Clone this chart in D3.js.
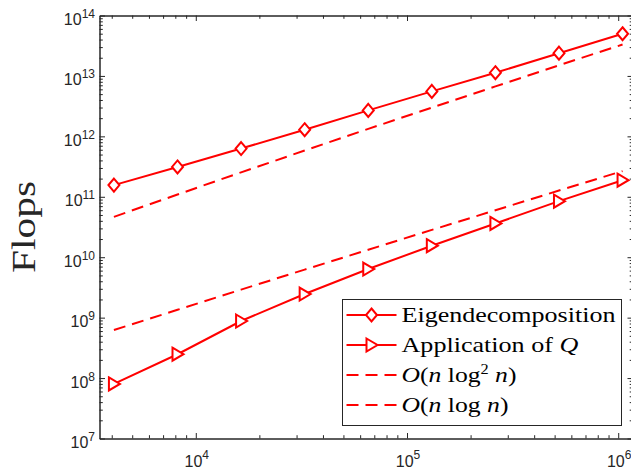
<!DOCTYPE html>
<html>
<head>
<meta charset="utf-8">
<script src="https://cdn.jsdelivr.net/npm/d3@7"></script>
<style>
  html, body { margin: 0; padding: 0; background: #fff; }
  svg { display: block; }
</style>
</head>
<body>
<div id="chart"></div>
<script>
// problem sizes n = 2^12 ... 2^20
const nValues = [4096, 8192, 16384, 32768, 65536, 131072, 262144, 524288, 1048576];
const eigFlops = [1.56e11, 3.12e11, 6.28e11, 1.29e12, 2.69e12, 5.55e12, 1.13e13, 2.38e13, 4.99e13];
const applyQFlops = [8.0e7, 2.48e8, 8.8e8, 2.46e9, 6.37e9, 1.55e10, 3.62e10, 8.46e10, 1.88e11];
const nLog2nRef = [4.66e10, 1.09e11, 2.54e11, 5.82e11, 1.33e12, 2.99e12, 6.71e12, 1.50e13, 3.31e13];
const nLognRef = [6.24e8, 1.35e9, 2.91e9, 6.24e9, 1.33e10, 2.83e10, 5.99e10, 1.27e11, 2.66e11];

const xMajorExp = [4, 5, 6];
const yMajorExp = [7, 8, 9, 10, 11, 12, 13, 14];

const W = 631, H = 470;
const plotL = 99.5, plotR = 633, plotT = 15.5, plotB = 438.5;
const red = '#ff0000', axisColor = '#262626';

const svg = d3.select('#chart').append('svg')
    .attr('width', W)
    .attr('height', H);

const x = d3.scaleLog().domain([3500, 1.175e6]).range([plotL, plotR]);
const y = d3.scaleLog().domain([1e7, 1e14]).range([plotB, plotT]);

// minor tick values (2..9 of each decade)
const xMinor = [], yMinor = [];
for (let e = 3; e <= 6; e++) for (let m = 2; m <= 9; m++) {
    const v = m * Math.pow(10, e);
    if (v > 3500 && v < 1.175e6) xMinor.push(v);
}
for (let e = 7; e < 14; e++) for (let m = 2; m <= 9; m++) yMinor.push(m * Math.pow(10, e));
const xMajor = xMajorExp.map(e => Math.pow(10, e));
const yMajor = yMajorExp.map(e => Math.pow(10, e));

function styleAxis(g) {
    g.selectAll('path.domain').attr('stroke', axisColor).attr('stroke-width', 1);
    g.selectAll('line').attr('stroke', axisColor).attr('stroke-width', 1);
    g.selectAll('text').remove();
}

// axes box: bottom, top, left, right with inward ticks
[[d3.axisBottom, plotB], [d3.axisTop, plotT]].forEach(([ax, yy]) => {
    svg.append('g').attr('transform', `translate(0,${yy})`)
        .call(ax(x).tickValues(xMajor).tickSize(-5.5).tickSizeOuter(0).tickFormat(''))
        .call(styleAxis);
    svg.append('g').attr('transform', `translate(0,${yy})`)
        .call(ax(x).tickValues(xMinor).tickSize(-3.3).tickSizeOuter(0).tickFormat(''))
        .call(styleAxis);
});
[[d3.axisLeft, plotL], [d3.axisRight, plotR]].forEach(([ax, xx]) => {
    svg.append('g').attr('transform', `translate(${xx},0)`)
        .call(ax(y).tickValues(yMajor).tickSize(-5.5).tickSizeOuter(0).tickFormat(''))
        .call(styleAxis);
    svg.append('g').attr('transform', `translate(${xx},0)`)
        .call(ax(y).tickValues(yMinor).tickSize(-3.3).tickSizeOuter(0).tickFormat(''))
        .call(styleAxis);
});

// tick labels 10^k
const labelFont = "'Liberation Sans', Arial, sans-serif";
yMajorExp.forEach(e => {
    const t = svg.append('text')
        .attr('x', 95)
        .attr('y', y(Math.pow(10, e)) + 9.5)
        .attr('text-anchor', 'end')
        .attr('fill', axisColor)
        .style('font-family', labelFont)
        .style('font-size', '16px');
    t.append('tspan').text('10');
    t.append('tspan').attr('dy', -7).style('font-size', '12px').text(e);
});
xMajorExp.forEach(e => {
    const t = svg.append('text')
        .attr('x', x(Math.pow(10, e)) + 1)
        .attr('y', 467)
        .attr('text-anchor', 'middle')
        .attr('fill', axisColor)
        .style('font-family', labelFont)
        .style('font-size', '16px');
    t.append('tspan').text('10');
    t.append('tspan').attr('dy', -8).style('font-size', '12px').text(e);
});

// fit a text node horizontally to a target width
function fitWidth(sel, tx, ty, target, rot) {
    const w = sel.node().getBBox().width;
    sel.attr('transform', `translate(${tx},${ty})${rot ? ' rotate(' + rot + ')' : ''} scale(${target / w},1)`);
}

// y label
const serif = "'Liberation Serif', 'Times New Roman', serif";
const ylab = svg.append('text')
    .attr('text-anchor', 'middle')
    .attr('fill', axisColor)
    .style('font-family', serif)
    .style('font-size', '33px')
    .text('Flops');
fitWidth(ylab, 35, 227, 92, -90);

// series
const series = [
    { name: 'eig', values: eigFlops, dash: null, marker: 'diamond' },
    { name: 'applyQ', values: applyQFlops, dash: null, marker: 'triangle' },
    { name: 'nlog2n', values: nLog2nRef, dash: '12,7', marker: null },
    { name: 'nlogn', values: nLognRef, dash: '12,7', marker: null }
];

const line = d3.line().x(d => x(d[0])).y(d => y(d[1]));

const diamondPath = 'M0,-6.5L5.5,0L0,6.5L-5.5,0Z';
const trianglePath = 'M-5,-6.5L6,0L-5,6.5Z';

function drawMarker(g, type, cx, cy) {
    g.append('path')
        .attr('d', type === 'diamond' ? diamondPath : trianglePath)
        .attr('transform', `translate(${cx},${cy})`)
        .attr('fill', '#fff')
        .attr('stroke', red)
        .attr('stroke-width', 2);
}

series.forEach(s => {
    const pts = nValues.map((n, i) => [n, s.values[i]]);
    const g = svg.append('g');
    g.append('path')
        .attr('d', line(pts))
        .attr('fill', 'none')
        .attr('stroke', red)
        .attr('stroke-width', 2)
        .attr('stroke-dasharray', s.dash);
    if (s.marker) pts.forEach(p => drawMarker(g, s.marker, x(p[0]), y(p[1])));
});

// legend
const lx = 342.5, ly = 299.5, lw = 279, lh = 126;
const legend = svg.append('g');
legend.append('rect')
    .attr('x', lx).attr('y', ly).attr('width', lw).attr('height', lh)
    .attr('fill', '#fff').attr('stroke', axisColor).attr('stroke-width', 1);

const legendRows = [
    { parts: [['Eigendecomposition', 'normal']], dash: null, marker: 'diamond', w: 214 },
    { parts: [['Application of ', 'normal'], ['Q', 'italic']], dash: null, marker: 'triangle', w: 177 },
    { parts: [['O', 'italic'], ['(', 'normal'], ['n', 'italic'], [' log', 'normal'], ['2', 'sup'], [' n', 'italic'], [')', 'normal']], dash: '12,7', marker: null, w: 115 },
    { parts: [['O', 'italic'], ['(', 'normal'], ['n', 'italic'], [' log ', 'normal'], ['n', 'italic'], [')', 'normal']], dash: '12,7', marker: null, w: 107 }
];

legendRows.forEach((r, i) => {
    const cy = 315 + i * 30;
    legend.append('line')
        .attr('x1', 346.5).attr('x2', 396.5)
        .attr('y1', cy).attr('y2', cy)
        .attr('stroke', red).attr('stroke-width', 2)
        .attr('stroke-dasharray', r.dash);
    if (r.marker) drawMarker(legend, r.marker, 371.5, cy);
    const t = legend.append('text')
        .attr('fill', '#000')
        .style('font-family', serif)
        .style('font-size', '22px');
    let raised = false;
    r.parts.forEach(([txt, st]) => {
        const sp = t.append('tspan').text(txt);
        if (st === 'italic') sp.style('font-style', 'italic');
        if (st === 'sup') { sp.attr('dy', -8).style('font-size', '14px'); raised = true; }
        else if (raised) { sp.attr('dy', 8); raised = false; }
    });
    fitWidth(t, 401.5, cy + 7, r.w);
});
</script>
</body>
</html>
